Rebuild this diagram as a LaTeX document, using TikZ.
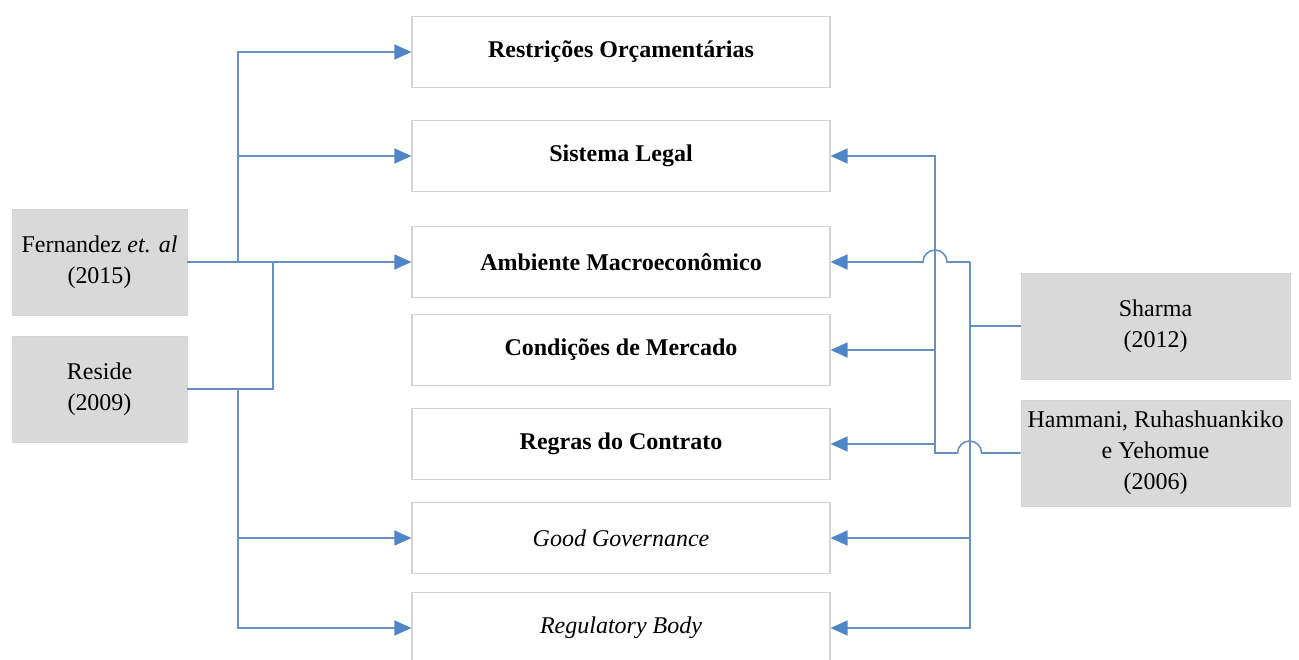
\documentclass[tikz,border=0pt]{standalone}
\usepackage{fontspec}
\setmainfont{Liberation Serif}
\usetikzlibrary{arrows.meta}
\definecolor{linkblue}{RGB}{104,142,196}
\definecolor{tipblue}{RGB}{78,134,200}
\definecolor{authorfill}{RGB}{217,217,217}
\definecolor{edgegray}{RGB}{212,212,212}

\begin{document}
\begin{tikzpicture}[x=1pt,y=-1pt,
  factor/.style={draw=edgegray, line width=1.2pt, fill=white,
    minimum width=418pt, minimum height=71pt, inner sep=0pt,
    font=\fontsize{24}{29}\selectfont\bfseries},
  author/.style={fill=authorfill, draw=edgegray, line width=0.8pt,
    minimum width=175pt, minimum height=106pt, inner sep=0pt,
    align=center, font=\fontsize{24}{31}\selectfont},
  link/.style={draw=linkblue, line width=1.6pt},
  arr/.style={link, -{Triangle[length=17pt,width=15pt,color=tipblue]}},
]
\useasboundingbox (0,0) rectangle (1299,659);

% central factors
\node[factor] (b1) at (621,52)  {Restrições Orçamentárias};
\node[factor] (b2) at (621,156) {Sistema Legal};
\node[factor] (b3) at (621,262) {Ambiente Macroeconômico};
\node[factor] (b4) at (621,350) {Condições de Mercado};
\node[factor] (b5) at (621,444) {Regras do Contrato};
\node[factor] (b6) at (621,538) {\mdseries\itshape Good Governance};
\node[factor] (b7) at (621,628) {\mdseries\itshape Regulatory Body};

% authors on the left
\node[author] (fer) at (99.5,262) {Fernandez \textit{et. al}\\(2015)};
\node[author] (res) at (99.5,389) {Reside\\(2009)};

% authors on the right
\node[author, minimum width=269pt] (sha) at (1155.5,326) {Sharma\\(2012)};
\node[author, minimum width=269pt] (ham) at (1155.5,453) {Hammani, Ruhashuankiko\\e Yehomue\\(2006)};

% junction points
\coordinate (fsplit) at (238,262);
\coordinate (rsplit) at (238,389);
\coordinate (rjoin)  at (273,262);
\coordinate (busA)   at (935,453);
\coordinate (busB)   at (970,262);

% left connectors
\draw[arr] (fer.east) -- (b3.west);
\draw[arr] (fsplit) |- (b1.west);
\draw[arr] (fsplit |- b2.west) -- (b2.west);
\draw[link] (res.east) -| (rjoin);
\draw[arr] (rsplit) |- (b7.west);
\draw[arr] (rsplit |- b6.west) -- (b6.west);

% right connectors: Sharma
\draw[link] (sha.west) -- (sha.west -| busB);
\draw[arr] (busB) |- (b7.east);
\draw[arr] (busB |- b6.east) -- (b6.east);
\draw[arr] (busB) -- ++(-23,0) arc[start angle=0,end angle=180,radius=12pt] -- (b3.east);

% right connectors: Hammani
\draw[arr] (ham.west) -- ++(-39,0) arc[start angle=0,end angle=180,radius=12pt] -- (busA) |- (b2.east);
\draw[arr] (busA |- b4.east) -- (b4.east);
\draw[arr] (busA |- b5.east) -- (b5.east);
\end{tikzpicture}
\end{document}
